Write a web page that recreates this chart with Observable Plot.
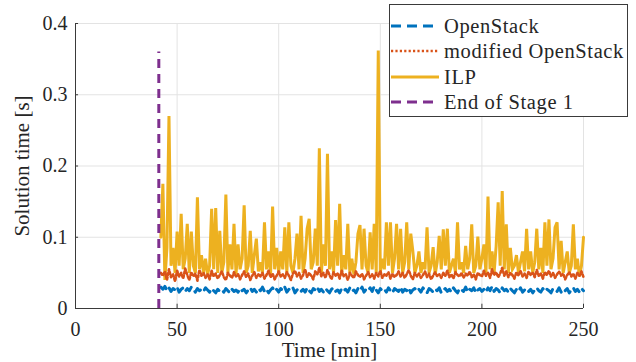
<!DOCTYPE html>
<html>
<head>
<meta charset="utf-8">
<script src="https://cdn.jsdelivr.net/npm/d3@7"></script>
<script src="https://cdn.jsdelivr.net/npm/@observablehq/plot@0.6"></script>
<style>
  html, body { margin: 0; padding: 0; background: #fff; }
  #wrap { position: relative; width: 636px; height: 362px; font-family: "Liberation Serif", serif; }
  #chart svg, #chart svg text, #chart svg tspan { font-family: "Liberation Serif", serif !important; }
  #legend {
    position: absolute; left: 389px; top: 4px; width: 239px; height: 113px;
    border: 1px solid #3a3a3a; background: #fff; box-sizing: border-box;
  }
  .row { position: absolute; left: 0; height: 24px; display: flex; align-items: center; }
  .row span { font-size: 20.5px; letter-spacing: 0.6px; color: #262626; margin-left: 4px; white-space: nowrap; font-family: "Liberation Serif", serif; }
</style>
</head>
<body>
<div id="wrap"><div id="chart"></div><div id="legend"></div></div>
<script>
// Sampling times of the optimisation runs [min]
const minutes = d3.range(42, 251);

// Solution time of the ILP solver [s]
const ilp = [
  0.100,0.175,0.040,0.085,0.270,0.060,0.085,0.050,0.108,0.060,
  0.133,0.055,0.070,0.119,0.050,0.108,0.060,0.050,0.156,0.055,
  0.075,0.050,0.070,0.048,0.060,0.140,0.055,0.141,0.050,0.109,
  0.050,0.065,0.160,0.050,0.090,0.055,0.119,0.048,0.090,0.055,
  0.070,0.145,0.050,0.060,0.109,0.050,0.075,0.098,0.052,0.065,
  0.050,0.121,0.055,0.080,0.048,0.143,0.055,0.085,0.050,0.080,
  0.055,0.114,0.050,0.121,0.060,0.050,0.070,0.105,0.055,0.130,
  0.050,0.070,0.112,0.126,0.055,0.065,0.112,0.060,0.225,0.050,
  0.090,0.060,0.217,0.055,0.080,0.050,0.124,0.060,0.147,0.050,
  0.075,0.055,0.119,0.050,0.070,0.048,0.065,0.105,0.117,0.055,
  0.112,0.060,0.050,0.107,0.055,0.119,0.050,0.362,0.050,0.070,
  0.055,0.121,0.060,0.121,0.050,0.070,0.119,0.055,0.112,0.050,
  0.065,0.121,0.055,0.105,0.081,0.050,0.060,0.080,0.050,0.065,
  0.055,0.114,0.050,0.060,0.086,0.048,0.065,0.102,0.055,0.111,
  0.060,0.112,0.050,0.060,0.070,0.050,0.121,0.055,0.065,0.050,
  0.088,0.055,0.070,0.118,0.050,0.060,0.101,0.055,0.070,0.090,
  0.050,0.157,0.055,0.080,0.050,0.087,0.149,0.060,0.165,0.055,
  0.118,0.050,0.085,0.055,0.060,0.075,0.050,0.065,0.080,0.052,
  0.112,0.055,0.080,0.050,0.065,0.112,0.055,0.085,0.050,0.121,
  0.060,0.125,0.055,0.070,0.114,0.121,0.055,0.095,0.050,0.065,
  0.080,0.050,0.060,0.118,0.055,0.070,0.045,0.060,0.100
];

// Solution time of the modified OpenStack scheduler [s]
const modifiedOpenStack = [
  0.050,0.046,0.052,0.040,0.055,0.044,0.048,0.038,0.053,0.045,
  0.050,0.042,0.056,0.047,0.040,0.051,0.045,0.049,0.039,0.054,
  0.046,0.050,0.043,0.048,0.041,0.053,0.045,0.049,0.042,0.047,
  0.052,0.044,0.040,0.050,0.046,0.043,0.051,0.045,0.048,0.041,
  0.047,0.052,0.044,0.049,0.040,0.046,0.051,0.043,0.048,0.045,
  0.050,0.042,0.047,0.053,0.044,0.049,0.041,0.046,0.052,0.045,
  0.048,0.043,0.051,0.046,0.040,0.049,0.053,0.045,0.050,0.042,
  0.047,0.055,0.044,0.050,0.046,0.041,0.052,0.048,0.057,0.045,
  0.050,0.043,0.054,0.047,0.041,0.051,0.046,0.049,0.042,0.053,
  0.045,0.048,0.040,0.050,0.046,0.043,0.052,0.047,0.044,0.049,
  0.041,0.046,0.051,0.044,0.048,0.042,0.050,0.045,0.053,0.043,
  0.048,0.046,0.051,0.042,0.049,0.044,0.047,0.052,0.045,0.050,
  0.043,0.048,0.054,0.046,0.041,0.050,0.045,0.049,0.043,0.047,
  0.052,0.044,0.049,0.041,0.046,0.051,0.045,0.048,0.043,0.050,
  0.046,0.053,0.044,0.048,0.042,0.051,0.047,0.045,0.050,0.043,
  0.049,0.046,0.052,0.044,0.048,0.041,0.050,0.047,0.045,0.053,
  0.046,0.050,0.043,0.055,0.047,0.051,0.044,0.049,0.057,0.046,
  0.052,0.044,0.050,0.047,0.042,0.051,0.046,0.053,0.045,0.049,
  0.043,0.052,0.047,0.050,0.044,0.054,0.046,0.049,0.042,0.051,
  0.047,0.053,0.045,0.050,0.043,0.048,0.052,0.046,0.049,0.041,
  0.047,0.051,0.045,0.049,0.042,0.050,0.046,0.052,0.044
];

// Solution time of the default OpenStack scheduler [s]
const openStack = [
  0.030,0.027,0.031,0.025,0.029,0.024,0.028,0.026,0.030,0.023,
  0.027,0.029,0.024,0.028,0.025,0.030,0.026,0.023,0.028,0.025,
  0.027,0.024,0.029,0.026,0.023,0.028,0.025,0.022,0.027,0.024,
  0.026,0.023,0.028,0.025,0.022,0.027,0.024,0.026,0.023,0.028,
  0.025,0.027,0.022,0.026,0.029,0.024,0.027,0.023,0.028,0.025,
  0.030,0.024,0.027,0.022,0.026,0.029,0.024,0.027,0.023,0.028,
  0.025,0.030,0.023,0.027,0.025,0.029,0.022,0.026,0.028,0.024,
  0.027,0.023,0.029,0.025,0.022,0.028,0.026,0.030,0.024,0.027,
  0.023,0.028,0.025,0.022,0.027,0.029,0.024,0.026,0.022,0.028,
  0.025,0.027,0.023,0.029,0.024,0.026,0.022,0.028,0.025,0.030,
  0.023,0.027,0.025,0.029,0.024,0.031,0.026,0.022,0.028,0.025,
  0.027,0.023,0.029,0.025,0.022,0.028,0.026,0.024,0.030,0.023,
  0.027,0.025,0.029,0.022,0.026,0.028,0.024,0.027,0.023,0.029,
  0.025,0.022,0.028,0.026,0.023,0.027,0.025,0.029,0.022,0.026,
  0.028,0.024,0.027,0.023,0.029,0.025,0.022,0.028,0.026,0.024,
  0.030,0.023,0.027,0.025,0.029,0.022,0.026,0.028,0.024,0.027,
  0.023,0.029,0.025,0.031,0.024,0.028,0.026,0.022,0.029,0.025,
  0.027,0.023,0.028,0.025,0.022,0.027,0.024,0.029,0.023,0.026,
  0.028,0.024,0.027,0.022,0.026,0.029,0.025,0.023,0.028,0.024,
  0.027,0.025,0.022,0.028,0.026,0.024,0.029,0.023,0.027,0.025,
  0.028,0.022,0.026,0.029,0.024,0.027,0.023,0.028,0.025
];

// End of the first stage: time [min] and marker height [s]
const stageEnd = [{t: 41, top: 0.36}];

const xTicks = [0, 50, 100, 150, 200, 250];
const yTicks = [0, 0.1, 0.2, 0.3, 0.4];

const seriesNames = ["OpenStack", "modified OpenStack", "ILP", "End of Stage 1"];
const seriesColors = ["#0072BD", "#D95319", "#EDB120", "#7E2F8E"];
const seriesDash = ["9,6", "2.2,2.2", null, "9,6"];
const legendDash = ["10,6", "2.2,2.2", null, "10,6"];
const seriesWidth = [3, 2.6, 3, 3];

const axisColor = "#3a3a3a";
const gridColor = "#e3e3e3";
const serif = "Liberation Serif";

const chart = Plot.plot({
  width: 636,
  height: 362,
  marginLeft: 75,
  marginRight: 53,
  marginTop: 23,
  marginBottom: 54,
  style: {fontFamily: serif, fontSize: "20px", color: "#262626", background: "#fff"},
  x: {domain: [0, 250]},
  y: {domain: [0, 0.4]},
  marks: [
    Plot.gridX(xTicks, {stroke: gridColor, strokeOpacity: 1}),
    Plot.gridY(yTicks, {stroke: gridColor, strokeOpacity: 1}),
    Plot.line(ilp, {x: (d, i) => minutes[i], y: d => d, stroke: seriesColors[2], strokeWidth: seriesWidth[2], strokeLinejoin: "miter", strokeMiterlimit: 4}),
    Plot.line(modifiedOpenStack, {x: (d, i) => minutes[i], y: d => d, stroke: seriesColors[1], strokeWidth: seriesWidth[1], strokeDasharray: seriesDash[1]}),
    Plot.line(openStack, {x: (d, i) => minutes[i], y: d => d, stroke: seriesColors[0], strokeWidth: seriesWidth[0], strokeDasharray: seriesDash[0]}),
    Plot.ruleX(stageEnd, {x: "t", y1: 0, y2: "top", stroke: seriesColors[3], strokeWidth: seriesWidth[3], strokeDasharray: seriesDash[3]}),
    Plot.ruleX([0], {stroke: axisColor, strokeWidth: 1}),
    Plot.ruleY([0], {stroke: axisColor, strokeWidth: 1}),
    // inward tick marks
    Plot.ruleX(xTicks, {y1: 0, y2: 0.006, stroke: axisColor, strokeWidth: 1}),
    Plot.ruleY(yTicks, {x1: 0, x2: 1.5, stroke: axisColor, strokeWidth: 1}),
    Plot.axisX({ticks: xTicks, tickSize: 0, tickPadding: 13, label: null, tickFormat: d3.format("d"), fontSize: 20, fontFamily: serif}),
    Plot.axisY({ticks: yTicks, tickSize: 0, tickPadding: 8, label: null, tickFormat: d3.format("~g"), fontSize: 20, fontFamily: serif}),
    Plot.text(["Solution time [s]"], {frameAnchor: "left", dx: -53, rotate: -90, fontSize: 21, fontFamily: serif, fill: "#262626", textAnchor: "middle"}),
    Plot.text(["Time [min]"], {frameAnchor: "bottom", dy: 42, fontSize: 21, fontFamily: serif, fill: "#262626", lineAnchor: "middle"})
  ]
});
chart.setAttribute("font-family", serif);
chart.querySelectorAll("g, text").forEach(el => {
  if (el.hasAttribute("font-family")) el.setAttribute("font-family", serif);
});
document.getElementById("chart").appendChild(chart);

// Legend box
const legend = document.getElementById("legend");
const rowTops = [9, 34, 60, 85];
seriesNames.forEach((name, i) => {
  const row = document.createElement("div");
  row.className = "row";
  row.style.top = rowTops[i] + "px";
  const dash = legendDash[i] ? `stroke-dasharray="${legendDash[i]}"` : "";
  row.innerHTML = `<svg width="50" height="24"><line x1="1" x2="49" y1="12" y2="12" stroke="${seriesColors[i]}" stroke-width="${seriesWidth[i]}" ${dash}/></svg><span>${name}</span>`;
  legend.appendChild(row);
});
</script>
</body>
</html>
